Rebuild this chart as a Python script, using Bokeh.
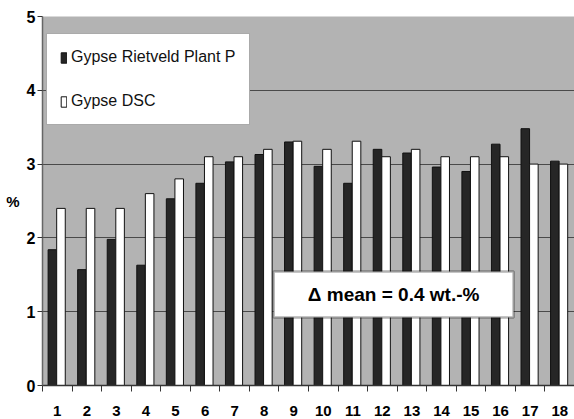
from bokeh.plotting import figure
from bokeh.models import (ColumnDataSource, FixedTicker, Legend, LegendItem,
                          BoxAnnotation, Label)
from bokeh.embed import file_html
from bokeh.resources import INLINE

samples = list(range(1, 19))
tick_labels = [str(s) for s in samples]
rietveld = [1.84, 1.57, 1.98, 1.63, 2.53, 2.74, 3.03, 3.13, 3.30, 2.97,
            2.74, 3.20, 3.15, 2.96, 2.90, 3.27, 3.48, 3.04]
dsc = [2.40, 2.40, 2.40, 2.60, 2.80, 3.10, 3.10, 3.20, 3.31, 3.20,
       3.31, 3.10, 3.20, 3.10, 3.10, 3.10, 3.00, 3.00]
series_names = ["Gypse Rietveld Plant P", "Gypse DSC"]
y_ticks = [0, 1, 2, 3, 4, 5]
annotation_text = "\u0394 mean = 0.4 wt.-%"

src = ColumnDataSource(dict(
    x_r=[s - 0.165 for s in samples],
    x_d=[s + 0.125 for s in samples],
    r=rietveld, d=dsc))

p = figure(width=574, height=419, output_backend="svg", toolbar_location=None,
           x_range=(0.5, 18.5), y_range=(0, 5),
           min_border_left=42, min_border_right=0, min_border_top=16,
           min_border_bottom=34)
p.background_fill_color = "#b3b3b3"
p.border_fill_color = "white"
p.outline_line_color = None

r1 = p.vbar(x="x_r", top="r", width=0.29, source=src,
            fill_color="#262626", line_color="#111111", line_width=1)
r2 = p.vbar(x="x_d", top="d", width=0.29, source=src,
            fill_color="white", line_color="#111111", line_width=1)

# grid
p.xgrid.grid_line_color = None
p.ygrid.ticker = FixedTicker(ticks=[1, 2, 3, 4, 5])
p.ygrid.grid_line_color = "#4a4a4a"
p.ygrid.grid_line_width = 1

# x axis
p.xaxis.ticker = FixedTicker(ticks=samples,
                             minor_ticks=[s - 0.5 for s in samples] + [18.5])
p.xaxis.major_label_overrides = {s: t for s, t in zip(samples, tick_labels)}
p.xaxis.major_tick_out = 0
p.xaxis.major_tick_in = 0
p.xaxis.minor_tick_out = 6
p.xaxis.minor_tick_in = 0
p.xaxis.minor_tick_line_color = "#333333"
p.xaxis.axis_line_color = "#333333"
p.xaxis.axis_line_width = 1.5
p.xaxis.major_label_text_font = "Liberation Sans"
p.xaxis.major_label_text_font_style = "bold"
p.xaxis.major_label_text_font_size = "15px"
p.xaxis.major_label_text_color = "black"
p.xaxis.major_label_standoff = 14

# y axis
p.yaxis.ticker = FixedTicker(ticks=y_ticks)
p.yaxis.minor_tick_line_color = None
p.yaxis.major_tick_out = 5
p.yaxis.major_tick_in = 0
p.yaxis.major_tick_line_color = "#333333"
p.yaxis.axis_line_color = "#666666"
p.yaxis.axis_line_width = 1.5
p.yaxis.major_label_text_font = "Liberation Sans"
p.yaxis.major_label_text_font_style = "bold"
p.yaxis.major_label_text_font_size = "16px"
p.yaxis.major_label_text_color = "black"
p.yaxis.major_label_standoff = 2
p.yaxis.axis_label = "%"
p.yaxis.axis_label_orientation = "horizontal"
p.yaxis.axis_label_text_font = "Liberation Sans"
p.yaxis.axis_label_text_font_style = "bold"
p.yaxis.axis_label_text_font_size = "15px"
p.yaxis.axis_label_text_color = "black"
p.yaxis.axis_label_standoff = 4

# legend
legend = Legend(items=[LegendItem(label=series_names[0], renderers=[r1]),
                       LegendItem(label=series_names[1], renderers=[r2])],
                location=(4, 260), orientation="vertical")
legend.label_text_font = "Liberation Sans"
legend.label_text_font_size = "16px"
legend.label_text_color = "#111111"
legend.glyph_width = 7
legend.glyph_height = 13
legend.label_height = 20
legend.label_standoff = 4
legend.spacing = 24
legend.padding = 13
legend.margin = 0
legend.border_line_color = "#555555"
legend.border_line_width = 1
legend.background_fill_color = "white"
legend.background_fill_alpha = 1
p.add_layout(legend, "center")

# annotation box
p.add_layout(BoxAnnotation(left=8.32, right=16.44, bottom=0.92, top=1.545,
                           fill_color="white", fill_alpha=1,
                           line_color="black", line_width=2.5))
p.add_layout(Label(x=12.38, y=1.23, text=annotation_text,
                   text_font="Liberation Sans", text_font_style="bold",
                   text_font_size="19px", text_align="center",
                   text_baseline="middle", text_color="black"))

open("out.html", "w").write(file_html(p, INLINE))
